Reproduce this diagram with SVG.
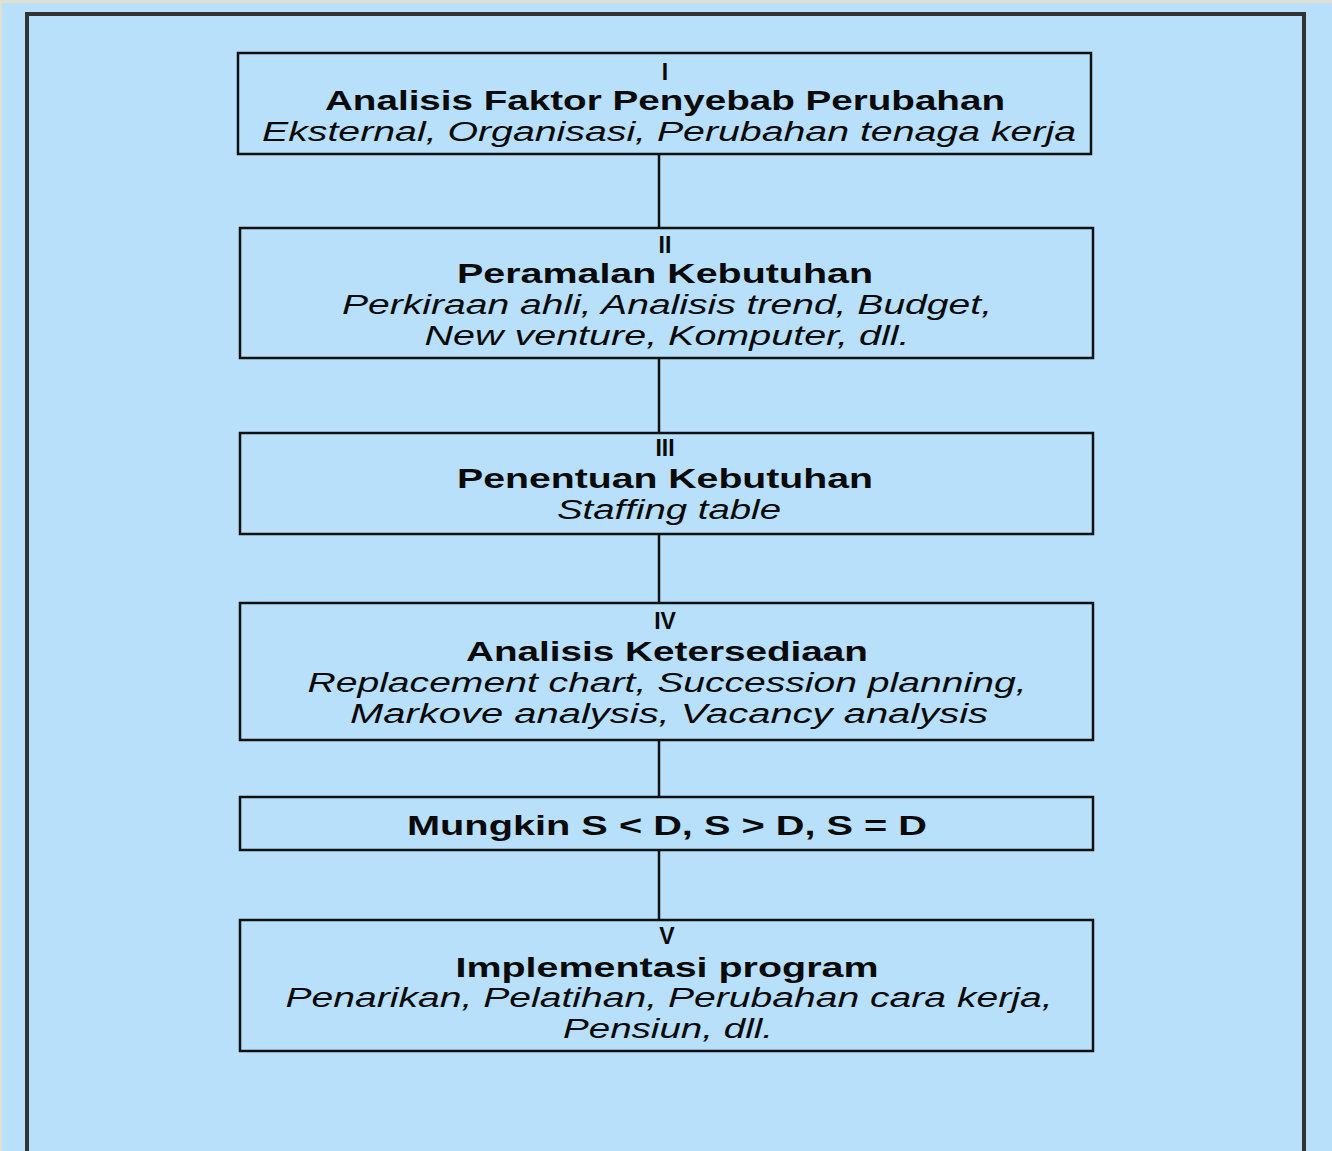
<svg xmlns="http://www.w3.org/2000/svg" width="1332" height="1151" viewBox="0 0 1332 1151">
<style>
.box{fill:#b8e0fa;stroke:#111;stroke-width:2.5}
.conn{stroke:#111;stroke-width:2.5;fill:none}
.t{font-family:"Liberation Sans",Arial,sans-serif;fill:#0a0a0a;text-anchor:middle}
.b{font-weight:bold;font-size:28px}
.n{font-weight:bold;font-size:23px}
.i{font-style:italic;font-size:27px}
</style>
<rect x="0" y="0" width="1332" height="1151" fill="#dfe0cf"/>
<rect x="2" y="3" width="1330" height="1148" fill="#b8e0fa"/>
<path d="M27 1151 V14 H1304 V1151" fill="none" stroke="#333" stroke-width="4"/>
<g id="connectors">
<line class="conn" x1="659" y1="154" x2="659" y2="228"/>
<line class="conn" x1="659" y1="358" x2="659" y2="433"/>
<line class="conn" x1="659" y1="534" x2="659" y2="603"/>
<line class="conn" x1="659" y1="740" x2="659" y2="797"/>
<line class="conn" x1="659" y1="850" x2="659" y2="920"/>
</g>
<g id="node1">
<rect class="box" x="238" y="53" width="853" height="101"/>
<text class="t n" x="665" y="80">I</text>
<text class="t b" x="665" y="110" textLength="680" lengthAdjust="spacingAndGlyphs">Analisis Faktor Penyebab Perubahan</text>
<text class="t i" x="669" y="141" textLength="814" lengthAdjust="spacingAndGlyphs">Eksternal, Organisasi, Perubahan tenaga kerja</text>
</g>
<g id="node2">
<rect class="box" x="240" y="228" width="853" height="130"/>
<text class="t n" x="665" y="253">II</text>
<text class="t b" x="665" y="283" textLength="416" lengthAdjust="spacingAndGlyphs">Peramalan Kebutuhan</text>
<text class="t i" x="667" y="314" textLength="650" lengthAdjust="spacingAndGlyphs">Perkiraan ahli, Analisis trend, Budget,</text>
<text class="t i" x="667" y="345" textLength="485" lengthAdjust="spacingAndGlyphs">New venture, Komputer, dll.</text>
</g>
<g id="node3">
<rect class="box" x="240" y="433" width="853" height="101"/>
<text class="t n" x="665" y="456">III</text>
<text class="t b" x="665" y="488" textLength="416" lengthAdjust="spacingAndGlyphs">Penentuan Kebutuhan</text>
<text class="t i" x="669" y="519" textLength="224" lengthAdjust="spacingAndGlyphs">Staffing table</text>
</g>
<g id="node4">
<rect class="box" x="240" y="603" width="853" height="137"/>
<text class="t n" x="665" y="629">IV</text>
<text class="t b" x="667" y="661" textLength="402" lengthAdjust="spacingAndGlyphs">Analisis Ketersediaan</text>
<text class="t i" x="667" y="692" textLength="719" lengthAdjust="spacingAndGlyphs">Replacement chart, Succession planning,</text>
<text class="t i" x="669" y="723" textLength="638" lengthAdjust="spacingAndGlyphs">Markove analysis, Vacancy analysis</text>
</g>
<g id="node5">
<rect class="box" x="240" y="797" width="853" height="53"/>
<text class="t b" x="667" y="835" textLength="520" lengthAdjust="spacingAndGlyphs">Mungkin S &lt; D, S &gt; D, S = D</text>
</g>
<g id="node6">
<rect class="box" x="240" y="920" width="853" height="131"/>
<text class="t n" x="667" y="944">V</text>
<text class="t b" x="667" y="977" textLength="423" lengthAdjust="spacingAndGlyphs">Implementasi program</text>
<text class="t i" x="669" y="1007" textLength="767" lengthAdjust="spacingAndGlyphs">Penarikan, Pelatihan, Perubahan cara kerja,</text>
<text class="t i" x="668" y="1038" textLength="210" lengthAdjust="spacingAndGlyphs">Pensiun, dll.</text>
</g>
</svg>
